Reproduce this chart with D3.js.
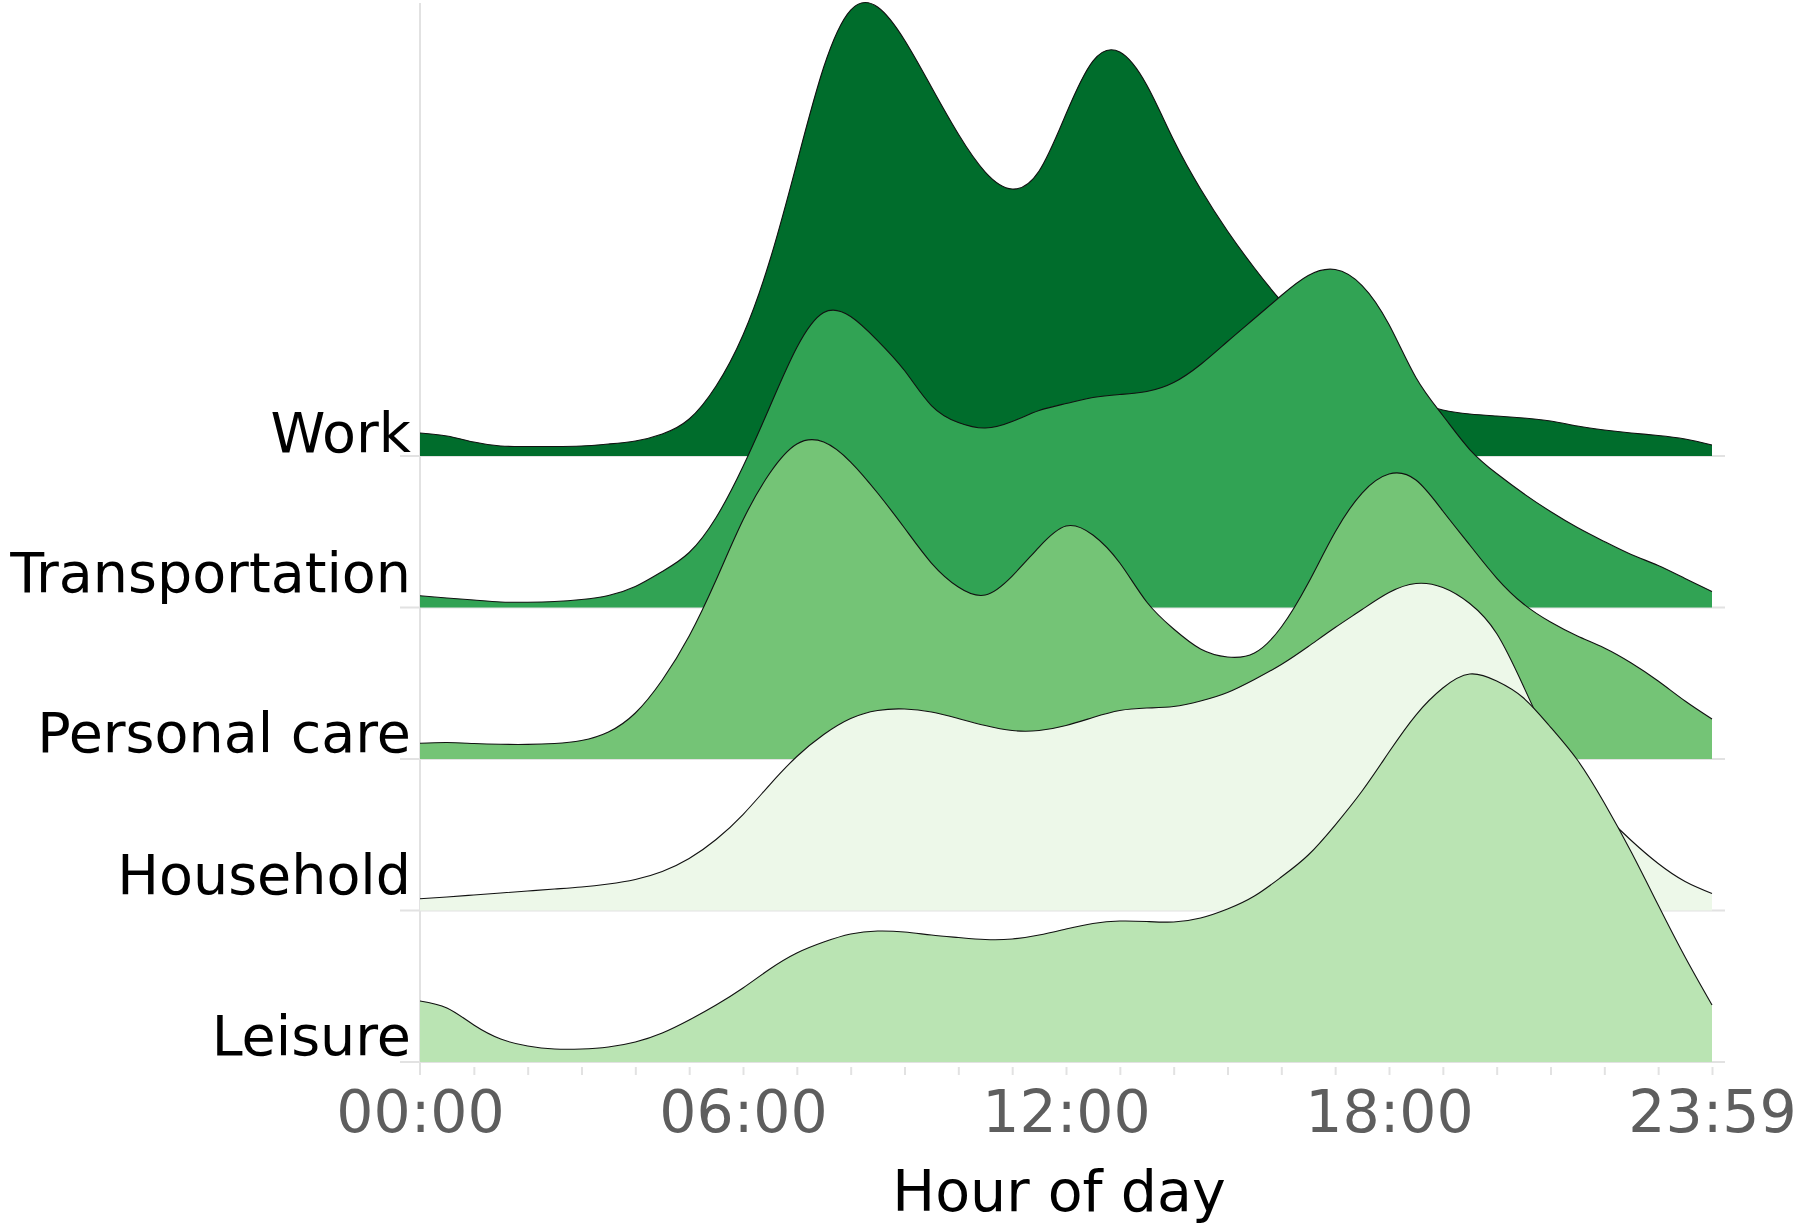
<!DOCTYPE html>
<html>
<head>
<meta charset="utf-8">
<script src="https://cdn.jsdelivr.net/npm/d3@7"></script>
<style>
  html, body { margin: 0; padding: 0; background: #ffffff; }
  svg { display: block; }
  text { font-family: "DejaVu Sans", Verdana, sans-serif; }
</style>
</head>
<body>
<svg id="chart" width="1800" height="1227"></svg>
<script>
// ---------------- data ----------------
const categories = ["Work", "Transportation", "Personal care", "Household", "Leisure"];
// sampling grid: every half hour from 00:00 to 24:00
const hours = d3.range(0, 24.001, 0.5);
// relative density (arbitrary units)
const work = [23,20,14,10,9.5,9.5,10,12,15,22,37,70,121,196,293,389,446,449,416,369,322,284,267,285,342,395,404,371,316,267,225,188,155,128,104,83,66,54,46,42,40,38,35,30,26,23,20.5,17,11];
const transportation = [11.7,9.5,7.5,5.5,5.3,6,8,12,21,36,55,90,141,201,260,295,291,267,237,202,185,179.5,186,197,204,210,213,216,225,243,266,289,312,332,338,322,283,230,192,158,134,114,96,80,66,53,42,29,16];
const personalCare = [15.7,16.5,15.5,14.7,14.6,15.5,18.5,27,46,79,123,179,239,286,315,317,297,266,231,196,172,164,183,212,233,224,196,157,130,110,102,106,132,176,227,266,285,279,248,214,181,155,137,123,111,96,78,58,40];
const household = [11.7,13.5,15.5,17.5,19.5,21.5,23.5,26.5,31,39,52,71,96,126,154,176,192,200,201.5,198.5,192,185,180,180,185,193,200,202.5,204,209.5,218,231,246,264,283,301,318,327,323,307,277,224,168,126,96,70,47,29,17];
const leisure = [61,54,37,23,16,13,13,15,20,29,42,57,74,93,109,120,128,131,130,127,124.5,122.5,123,127,133,138.5,141,140.5,140,144,153,166,185,207,237,271,310,347,374,388,381,364,335,302,259,210,157,105,57];
const seriesValues = [work, transportation, personalCare, household, leisure];
const colors = ["#006d2c", "#31a354", "#74c476", "#edf8e9", "#bae4b3"];
const tickHours = [0, 6, 12, 18, 24];
const tickLabels = ["00:00", "06:00", "12:00", "18:00", "23:59"];
const xTitle = "Hour of day";

// ---------------- layout ----------------
const svg = d3.select("#chart");
const x = d3.scaleLinear().domain([0, 24]).range([420, 1712]);
const y = d3.scalePoint().domain(categories).range([456, 1062]);
const step = y.step();
const h = d3.scaleLinear().domain([0, 100]).range([0, step * 0.66]);
const labelNudge = [4, 16, 7, 17, 7];
const curve = d3.curveNatural;

// vertical axis line
svg.append("line")
  .attr("x1", x(0)).attr("x2", x(0))
  .attr("y1", 3).attr("y2", y(categories[categories.length - 1]) + 13)
  .attr("stroke", "#e2e2e2").attr("stroke-width", 2);

// baseline grid lines (with small left ticks)
svg.append("g").selectAll("line").data(categories).join("line")
  .attr("x1", x(0) - 20).attr("x2", x(24) + 13)
  .attr("y1", d => y(d)).attr("y2", d => y(d))
  .attr("stroke", "#e2e2e2").attr("stroke-width", 2);

// ridges
const ridges = svg.append("g");
categories.forEach((cat, i) => {
  const vals = seriesValues[i];
  const pts = hours.map((hr, j) => ({ hr, v: vals[j] }));
  const base = y(cat);
  const area = d3.area()
    .x(d => x(d.hr))
    .y0(base)
    .y1(d => base - h(d.v))
    .curve(curve);
  const line = d3.line()
    .x(d => x(d.hr))
    .y(d => base - h(d.v))
    .curve(curve);
  ridges.append("path").datum(pts)
    .attr("d", area).attr("fill", colors[i]).attr("stroke", "none");
  ridges.append("path").datum(pts)
    .attr("d", line).attr("fill", "none")
    .attr("stroke", "#111").attr("stroke-width", 1.1);
});

// category labels
svg.append("g").selectAll("text").data(categories).join("text")
  .attr("x", 411)
  .attr("y", (d, i) => y(d) - labelNudge[i])
  .attr("text-anchor", "end")
  .attr("font-size", 55.5)
  .attr("fill", "#000")
  .text(d => d);

// x axis: hourly minor ticks
const lastBase = y(categories[categories.length - 1]);
const tickAxis = d3.axisBottom(x).tickValues(d3.range(1, 25)).tickSize(8).tickFormat("");
const gt = svg.append("g").attr("transform", `translate(0,${lastBase + 5})`).call(tickAxis);
gt.select(".domain").remove();
gt.selectAll(".tick line").attr("stroke", "#e2e2e2").attr("stroke-width", 2);

// x axis: labels
const labelAxis = d3.axisBottom(x).tickValues(tickHours).tickSize(0)
  .tickFormat((d, i) => tickLabels[i]);
const gl = svg.append("g").attr("transform", `translate(0,${lastBase})`).call(labelAxis);
gl.select(".domain").remove();
gl.selectAll(".tick text")
  .attr("y", 70).attr("dy", 0)
  .attr("font-size", 58.5)
  .attr("font-family", "DejaVu Sans, Verdana, sans-serif")
  .attr("fill", "#5e5e5e");

// axis title
svg.append("text")
  .attr("x", 1059).attr("y", 1211)
  .attr("text-anchor", "middle")
  .attr("font-size", 57)
  .attr("fill", "#000")
  .text(xTitle);
</script>
</body>
</html>
